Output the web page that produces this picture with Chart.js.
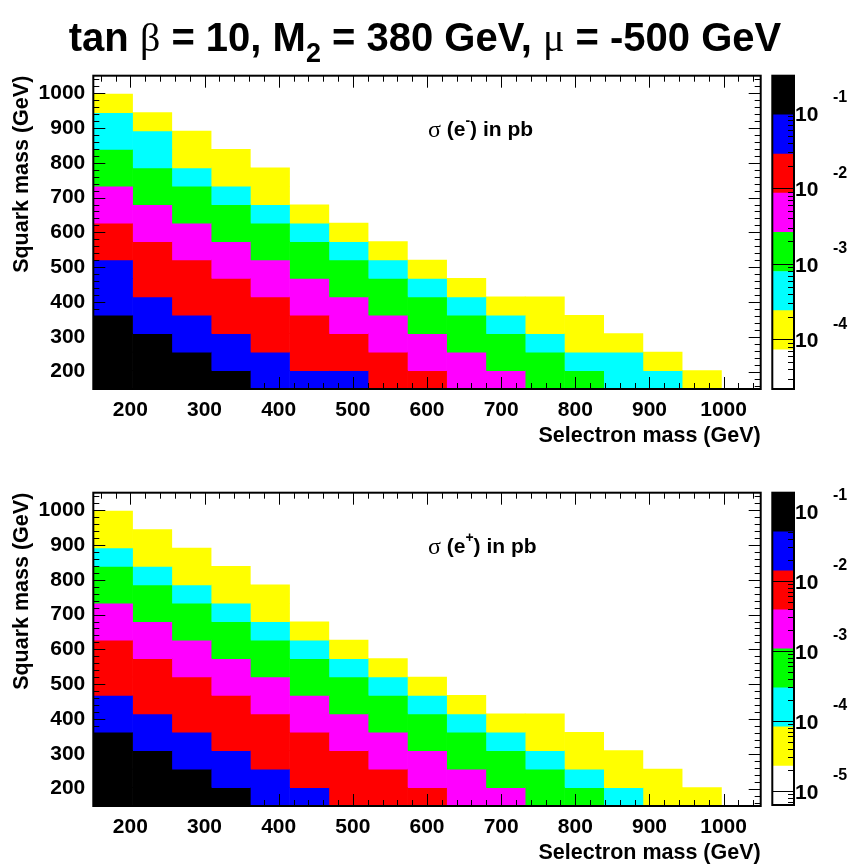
<!DOCTYPE html>
<html><head><meta charset="utf-8">
<script src="https://cdn.jsdelivr.net/npm/chart.js@4.4.1/dist/chart.umd.min.js"></script>
<style>
html,body{margin:0;padding:0;background:#fff;}
body{width:850px;height:868px;position:relative;overflow:hidden;font-family:'Liberation Sans',Arial,sans-serif;}
canvas{position:absolute;}
#title{position:absolute;left:0;width:850px;top:13px;text-align:center;font-weight:bold;font-size:40px;line-height:48px;color:#000;white-space:nowrap;z-index:5;}
.sym{font-family:'Liberation Serif',serif;font-weight:normal;}
#title sub{font-size:27px;vertical-align:-11px;line-height:0;}
</style></head><body>
<canvas id="h1" width="770" height="455" style="left:0px;top:0px"></canvas>
<canvas id="c1" width="90" height="455" style="left:760px;top:0px"></canvas>
<canvas id="h2" width="770" height="451" style="left:0px;top:417px"></canvas>
<canvas id="c2" width="90" height="451" style="left:760px;top:417px"></canvas>
<div id="title">tan <span class="sym">β</span> = 10, M<sub>2</sub> = 380 GeV, <span class="sym">μ</span> = -500 GeV</div>
<script>
// ---- data ----
const selectronMass = [176.5, 229.4, 282.4, 335.3, 388.2, 441.2, 494.1, 547.1, 600.0, 652.9, 705.9, 758.8, 811.8, 864.7, 917.6, 970.6, 1023.5];
const squarkMass    = [176.5, 229.4, 282.4, 335.3, 388.2, 441.2, 494.1, 547.1, 600.0, 652.9, 705.9, 758.8, 811.8, 864.7, 917.6, 970.6, 1023.5];
const xTickValues = [200, 300, 400, 500, 600, 700, 800, 900, 1000];
const yTickValues = [200, 300, 400, 500, 600, 700, 800, 900, 1000];

// sigma(e-) in pb: one list per selectron-mass column, squark mass rising from 176.5
const sigmaEminus = [
  [0.17,0.17,0.17,0.17,0.052,0.052,0.052,0.016,0.016,0.0047,0.0047,0.0014,0.0014,0.00044,0.00044,0.00013],
  [0.17,0.17,0.17,0.052,0.052,0.016,0.016,0.016,0.0047,0.0047,0.0014,0.0014,0.00044,0.00044,0.00013],
  [0.17,0.17,0.052,0.052,0.016,0.016,0.016,0.0047,0.0047,0.0014,0.0014,0.00044,0.00013,0.00013],
  [0.17,0.052,0.052,0.016,0.016,0.016,0.0047,0.0047,0.0014,0.0014,0.00044,0.00013,0.00013],
  [0.052,0.052,0.016,0.016,0.016,0.0047,0.0047,0.0014,0.0014,0.00044,0.00013,0.00013],
  [0.052,0.016,0.016,0.016,0.0047,0.0047,0.0014,0.0014,0.00044,0.00013],
  [0.052,0.016,0.016,0.0047,0.0047,0.0014,0.0014,0.00044,0.00013],
  [0.016,0.016,0.0047,0.0047,0.0014,0.0014,0.00044,0.00013],
  [0.016,0.0047,0.0047,0.0014,0.0014,0.00044,0.00013],
  [0.0047,0.0047,0.0014,0.0014,0.00044,0.00013],
  [0.0047,0.0014,0.0014,0.00044,0.00013],
  [0.0014,0.0014,0.00044,0.00013,0.00013],
  [0.0014,0.00044,0.00013,0.00013],
  [0.00044,0.00044,0.00013],
  [0.00044,0.00013],
  [0.00013],
  [0.00004]
];
// sigma(e+) in pb
const sigmaEplus = [
  [0.096,0.096,0.096,0.096,0.027,0.027,0.0073,0.0073,0.0073,0.0020,0.0020,0.00056,0.00056,0.000156,0.000043,0.000043],
  [0.096,0.096,0.096,0.027,0.027,0.0073,0.0073,0.0073,0.0020,0.0020,0.00056,0.00056,0.000156,0.000043,0.000043],
  [0.096,0.096,0.027,0.027,0.0073,0.0073,0.0073,0.0020,0.0020,0.00056,0.00056,0.000156,0.000043,0.000043],
  [0.096,0.027,0.027,0.0073,0.0073,0.0073,0.0020,0.0020,0.00056,0.00056,0.000156,0.000043,0.000043],
  [0.027,0.027,0.0073,0.0073,0.0073,0.0020,0.0020,0.00056,0.00056,0.000156,0.000043,0.000043],
  [0.027,0.0073,0.0073,0.0073,0.0020,0.0020,0.00056,0.00056,0.000156,0.000043],
  [0.0073,0.0073,0.0073,0.0020,0.0020,0.00056,0.00056,0.000156,0.000043],
  [0.0073,0.0073,0.0020,0.0020,0.00056,0.00056,0.000156,0.000043],
  [0.0073,0.0020,0.0020,0.00056,0.00056,0.000156,0.000043],
  [0.0020,0.0020,0.00056,0.00056,0.000156,0.000043],
  [0.0020,0.00056,0.00056,0.000156,0.000043],
  [0.00056,0.00056,0.000156,0.000043,0.000043],
  [0.00056,0.000156,0.000043,0.000043],
  [0.000156,0.000043,0.000043],
  [0.000043,0.000043],
  [0.000043],
  [0.000012]
];
// colour-scale range (pb)
const zRangeTop = [2.2e-5, 0.31];
const zRangeBottom = [6.27e-6, 0.1816];
const cbExpTop = [-1, -2, -3, -4];
const cbExpBottom = [-1, -2, -3, -4, -5];
const palette = ['#ffffff','#ffff00','#00ffff','#00ff00','#ff00ff','#ff0000','#0000ff','#000000'];

// ---- drawing ----
const FONT = "'Liberation Sans', Arial, sans-serif";
Chart.defaults.font.family = FONT;
Chart.defaults.color = '#000';
Chart.defaults.animation = false;

function bandIndex(v, zr) {
  const lmin = Math.log10(zr[0]), lmax = Math.log10(zr[1]);
  const k = Math.floor((Math.log10(v) - lmin) / (lmax - lmin) * palette.length);
  return Math.max(0, Math.min(palette.length - 1, k));
}

const rootFrame = {
  id: 'rootFrame',
  afterDatasetsDraw(chart, args, opts) {
    const {ctx, chartArea: a, scales: {x, y}} = chart;
    ctx.save();
    ctx.strokeStyle = '#000';
    ctx.lineWidth = 1;
    ctx.beginPath();
    for (let v = 160; v < 1050; v += 20) {
      const len = v % 100 === 0 ? 12 : 6;
      const px = Math.round(x.getPixelForValue(v)) + 0.5;
      ctx.moveTo(px, a.bottom); ctx.lineTo(px, a.bottom - len);
      ctx.moveTo(px, a.top); ctx.lineTo(px, a.top + len);
      const py = Math.round(y.getPixelForValue(v)) + 0.5;
      ctx.moveTo(a.left, py); ctx.lineTo(a.left + len, py);
      ctx.moveTo(a.right, py); ctx.lineTo(a.right - len, py);
    }
    ctx.stroke();
    ctx.lineWidth = 2;
    ctx.strokeRect(a.left, a.top, a.right - a.left, a.bottom - a.top);
    // label
    const lx = a.left + 0.5015 * (a.right - a.left);
    const ly = a.top + 0.173 * (a.bottom - a.top);
    ctx.fillStyle = '#000';
    ctx.textBaseline = 'middle';
    ctx.textAlign = 'left';
    let cx = lx;
    ctx.font = "24px 'Liberation Serif', serif";
    ctx.fillText('σ', cx, ly + 1); cx += ctx.measureText('σ').width;
    ctx.font = "bold 21px " + FONT;
    ctx.fillText(' (e', cx, ly); cx += ctx.measureText(' (e').width;
    ctx.font = "bold 14px " + FONT;
    ctx.fillText(opts.charge, cx, ly - 9); cx += ctx.measureText(opts.charge).width;
    ctx.font = "bold 21px " + FONT;
    ctx.fillText(') in pb', cx, ly);
    ctx.restore();
  }
};

function heatChart(id, cols, zr, charge, padBottom) {
  const half = (squarkMass[1] - squarkMass[0]) / 2;
  const datasets = cols.map((col, c) => ({
    data: col.map((v, r) => ({x: selectronMass[c], y: [squarkMass[r] - half, squarkMass[r] + half], v: v})),
    backgroundColor: ctx => ctx.raw ? palette[bandIndex(ctx.raw.v, zr)] : '#fff',
    borderWidth: 0,
    barPercentage: 1,
    categoryPercentage: 1
  }));
  const bold21 = {size: 21, weight: 'bold', family: FONT};
  return new Chart(document.getElementById(id), {
    type: 'bar',
    data: {datasets},
    options: {
      responsive: false,
      animation: false,
      layout: {padding: {top: 75.7, right: 9.3, bottom: padBottom, left: 0}},
      plugins: {legend: {display: false}, tooltip: {enabled: false}, rootFrame: {charge}},
      scales: {
        x: {
          type: 'linear', min: 150, max: 1050, offset: false, stacked: true,
          grid: {display: false, drawTicks: false}, border: {display: false},
          afterBuildTicks: s => { s.ticks = xTickValues.map(v => ({value: v})); },
          afterFit: s => { s.height = 60; },
          ticks: {font: bold21, padding: 9, maxRotation: 0, autoSkip: false, callback: v => String(v)},
          title: {display: true, text: 'Selectron mass (GeV)', align: 'end', font: {size: 21.5, weight: 'bold', family: FONT}, padding: {top: 0, bottom: 0}}
        },
        y: {
          type: 'linear', min: 150, max: 1050, stacked: false,
          grid: {display: false, drawTicks: false}, border: {display: false},
          afterBuildTicks: s => { s.ticks = yTickValues.map(v => ({value: v})); },
          afterFit: s => { s.width = 93.3; },
          ticks: {font: bold21, padding: 8, autoSkip: false, callback: v => String(v)},
          title: {display: true, text: 'Squark mass (GeV)', align: 'end', font: {size: 21.5, weight: 'bold', family: FONT}, padding: {top: 9, bottom: 0}}
        }
      }
    },
    plugins: [rootFrame]
  });
}

const cbPlugin = {
  id: 'cbPlugin',
  afterDatasetsDraw(chart, args, opts) {
    const {ctx, chartArea: a, scales: {y}} = chart;
    const zr = opts.zr;
    const w = a.right - a.left;
    ctx.save();
    ctx.strokeStyle = '#000';
    ctx.lineWidth = 1;
    ctx.beginPath();
    for (let e = Math.floor(Math.log10(zr[0])); e <= Math.ceil(Math.log10(zr[1])); e++) {
      for (let k = 1; k <= 9; k++) {
        const v = k * Math.pow(10, e);
        if (v < zr[0] || v > zr[1]) continue;
        const py = Math.round(y.getPixelForValue(v)) + 0.5;
        const len = k === 1 ? w : 6;
        ctx.moveTo(a.right, py); ctx.lineTo(a.right - len, py);
      }
    }
    ctx.stroke();
    ctx.lineWidth = 2;
    ctx.strokeRect(a.left, a.top, w, a.bottom - a.top);
    ctx.fillStyle = '#000';
    ctx.textAlign = 'left';
    ctx.textBaseline = 'middle';
    for (const e of opts.exps) {
      const py = y.getPixelForValue(Math.pow(10, e));
      ctx.font = "bold 21px " + FONT;
      ctx.fillText('10', a.right + 1, py + 2);
      ctx.font = "bold 16px " + FONT;
      ctx.fillText(String(e), a.right + 39, py - 15);
    }
    ctx.restore();
  }
};

function colorBar(id, zr, exps, padBottom) {
  const n = palette.length;
  const lmin = Math.log10(zr[0]);
  const step = (Math.log10(zr[1]) - lmin) / n;
  const datasets = palette.map((c, k) => ({
    data: [{x: 'z', y: [Math.pow(10, lmin + k * step), Math.pow(10, lmin + (k + 1) * step)]}],
    backgroundColor: c, borderWidth: 0, barPercentage: 1, categoryPercentage: 1
  }));
  return new Chart(document.getElementById(id), {
    type: 'bar',
    data: {labels: ['z'], datasets},
    options: {
      responsive: false, animation: false,
      layout: {padding: {left: 12.3, right: 56, top: 75.7, bottom: padBottom}},
      plugins: {legend: {display: false}, tooltip: {enabled: false}, cbPlugin: {zr, exps}},
      scales: {
        x: {type: 'category', display: false, stacked: true},
        y: {type: 'logarithmic', min: zr[0], max: zr[1], display: false, stacked: false}
      }
    },
    plugins: [cbPlugin]
  });
}

heatChart('h1', sigmaEminus, zRangeTop, '-', 6);
colorBar('c1', zRangeTop, cbExpTop, 66);
heatChart('h2', sigmaEplus, zRangeBottom, '+', 2);
colorBar('c2', zRangeBottom, cbExpBottom, 63);
</script>
</body></html>
